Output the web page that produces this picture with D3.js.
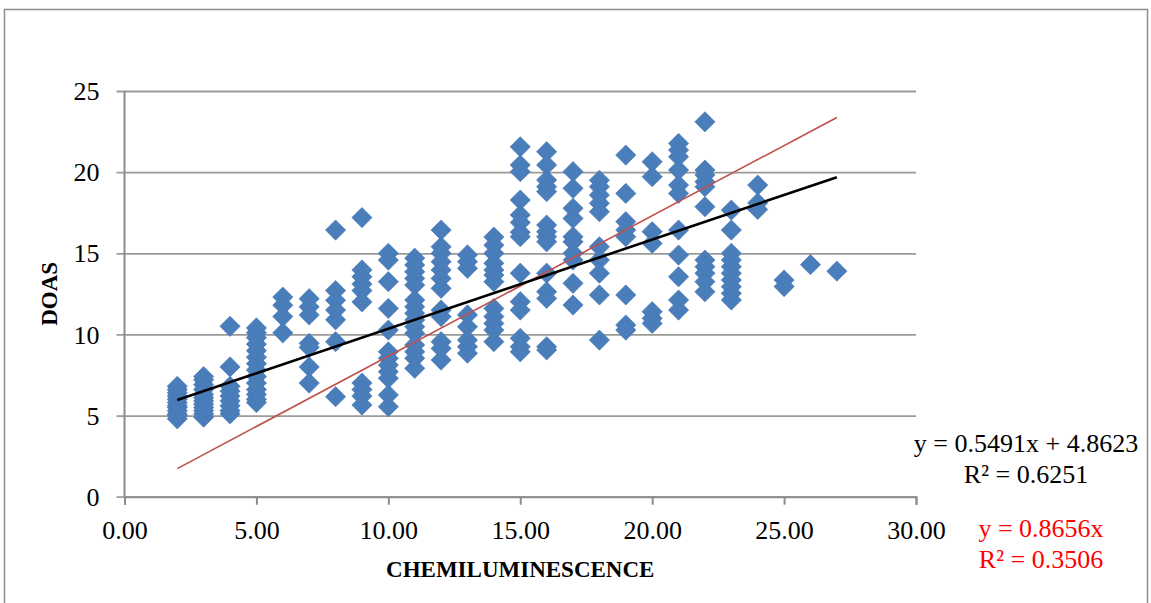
<!DOCTYPE html>
<meta charset="utf-8">
<style>
    body {
        margin: 0;
        background: #fff;
        font-family: 'Liberation Serif', serif;
    }
    #graph {
        width: 1151px;
        height: 603px;
    }
</style>
<script src="https://d3js.org/d3.v7.min.js"></script>
<div id="graph"></div>
<script>
    // chemiluminescence readings (x) and the DOAS readings seen at each one (y)
    const chemiLevels = [2, 3, 4, 5, 6, 7, 8, 9, 10, 11, 12, 13, 14, 15, 16, 17, 18, 19, 20, 21, 22, 23, 24, 25, 26, 27];
    const doasByLevel = [
        [4.8, 5.0, 5.1, 5.3, 5.5, 5.6, 5.8, 6.0, 6.2, 6.4, 6.6, 6.8],
        [4.9, 5.1, 5.3, 5.5, 5.7, 5.9, 6.1, 6.3, 6.6, 6.9, 7.2, 7.4],
        [5.1, 5.3, 5.6, 5.9, 6.2, 6.5, 6.8, 8.0, 10.5],
        [5.8, 6.0, 6.3, 6.6, 7.0, 7.4, 7.8, 8.2, 8.6, 9.0, 9.4, 9.8, 10.1, 10.4],
        [12.3, 11.8, 11.1, 10.1],
        [12.2, 11.7, 11.2, 9.45, 9.2, 8.0, 7.0],
        [16.43, 12.7, 12.1, 11.5, 10.9, 9.55, 6.16],
        [17.2, 13.97, 13.55, 13.1, 12.7, 12.0, 7.0, 6.6, 6.2, 5.65],
        [15.0, 14.58, 13.25, 11.6, 10.27, 8.93, 8.53, 8.11, 7.7, 7.3, 6.27, 5.55],
        [14.7, 14.28, 13.86, 13.45, 13.04, 12.12, 11.7, 11.3, 10.89, 10.47, 10.07, 9.35, 8.93, 8.53, 7.91],
        [16.43, 15.4, 15.0, 14.48, 13.97, 13.45, 12.84, 11.5, 11.1, 9.55, 9.14, 8.42],
        [14.9, 14.48, 14.07, 11.2, 10.47, 9.65, 9.24, 8.84],
        [16.0, 15.5, 15.0, 14.38, 13.97, 13.66, 13.25, 11.6, 11.1, 10.68, 10.27, 9.55],
        [21.56, 20.44, 20.03, 18.28, 17.36, 16.9, 16.3, 16.02, 13.77, 12.02, 11.5, 9.76, 9.24, 8.93],
        [21.26, 20.44, 19.51, 19.1, 18.8, 16.74, 16.33, 16.02, 15.71, 13.77, 12.63, 12.22, 9.24, 9.04],
        [20.03, 19.0, 17.77, 17.15, 16.02, 15.71, 15.0, 14.58, 13.15, 11.81],
        [19.5, 19.1, 18.59, 18.08, 17.56, 15.4, 14.58, 13.77, 12.43, 9.65],
        [21.05, 18.69, 16.95, 16.43, 16.02, 12.43, 10.58, 10.27],
        [20.64, 19.72, 16.33, 15.61, 11.4, 10.99, 10.68],
        [21.77, 21.36, 20.95, 20.13, 19.2, 18.69, 16.43, 14.89, 13.55, 12.12, 11.5],
        [23.1, 20.13, 19.82, 19.41, 19.1, 17.87, 14.58, 14.17, 13.77, 13.25, 12.63],
        [17.66, 16.43, 15.0, 14.58, 14.17, 13.77, 13.35, 12.94, 12.53, 12.12],
        [19.2, 18.1, 17.7],
        [13.35, 12.95],
        [14.3],
        [13.9]
    ];
    const xTicks = [0, 5, 10, 15, 20, 25, 30];
    const yTicks = [0, 5, 10, 15, 20, 25];
    // fitted lines: y = slope * x + intercept
    const fitLinear = {slope: 0.5491, intercept: 4.8623, r2: 0.6251};
    const fitOrigin = {slope: 0.8656, intercept: 0, r2: 0.3506};

    const points = [];
    chemiLevels.forEach((c, i) => doasByLevel[i].forEach(v => points.push({x: c, y: v})));

    const W = 1151, H = 603;
    const margin = {top: 91, left: 124.5, right: W - 916, bottom: H - 496.7},
        width = W - margin.left - margin.right,
        height = H - margin.top - margin.bottom;

    const svg = d3.select("#graph").append("svg")
        .attr("width", W)
        .attr("height", H);

    // chart frame
    svg.append("rect")
        .attr("x", 4.5).attr("y", 9.5)
        .attr("width", 1143).attr("height", 620)
        .attr("fill", "none")
        .attr("stroke", "#8c8c8c")
        .attr("stroke-width", 1.5);

    const g = svg.append("g")
        .attr("transform", `translate(${margin.left},${margin.top})`);

    const x = d3.scaleLinear().domain([0, 30]).range([0, width]);
    const y = d3.scaleLinear().domain([0, 25]).range([height, 0]);

    // horizontal gridlines + y axis
    const axisY = g.append("g")
        .call(d3.axisLeft(y).tickValues(yTicks).tickSize(8).tickPadding(17).tickFormat(d3.format("d")));
    axisY.select(".domain").remove();
    axisY.selectAll(".tick line")
        .attr("x1", -8).attr("x2", width)
        .attr("stroke", "#9a9a9a").attr("stroke-width", 1.8);
    axisY.selectAll("text")
        .attr("font-family", "Liberation Serif").attr("font-size", 26)
        .attr("fill", "#000").attr("dy", "0.33em");

    g.append("line")
        .attr("x1", 0).attr("x2", 0).attr("y1", 0).attr("y2", height)
        .attr("stroke", "#8c8c8c").attr("stroke-width", 2);

    const axisX = g.append("g")
        .attr("transform", `translate(0,${height})`)
        .call(d3.axisBottom(x).tickValues(xTicks).tickSize(8).tickPadding(16).tickFormat(d3.format(".2f")));
    axisX.select(".domain").attr("stroke", "#8c8c8c").attr("stroke-width", 2);
    axisX.selectAll(".tick line").attr("stroke", "#8c8c8c").attr("stroke-width", 2);
    axisX.selectAll("text")
        .attr("font-family", "Liberation Serif").attr("font-size", 26)
        .attr("fill", "#000").attr("dy", "0.72em");

    // points
    const diamond = d3.symbol().type(d3.symbolSquare).size(205);
    g.append("g").selectAll("path")
        .data(points)
        .enter().append("path")
        .attr("d", diamond)
        .attr("transform", d => `translate(${x(d.x)},${y(d.y)}) rotate(45)`)
        .attr("fill", "#4a7ebb")
        .attr("stroke", "#4577b3")
        .attr("stroke-width", 0.6);

    // trend lines
    const xExt = d3.extent(points, d => d.x);
    const line = d3.line().x(d => x(d[0])).y(d => y(d[1]));
    const fitPts = f => xExt.map(v => [v, f.slope * v + f.intercept]);

    g.append("path")
        .attr("d", line(fitPts(fitOrigin)))
        .attr("fill", "none").attr("stroke", "#c0504d").attr("stroke-width", 1.6);
    g.append("path")
        .attr("d", line(fitPts(fitLinear)))
        .attr("fill", "none").attr("stroke", "#000").attr("stroke-width", 2.6);

    // axis titles
    svg.append("text")
        .attr("x", margin.left + width / 2).attr("y", 577)
        .attr("text-anchor", "middle")
        .attr("font-family", "Liberation Serif").attr("font-weight", "bold").attr("font-size", 23)
        .text("CHEMILUMINESCENCE");
    svg.append("text")
        .attr("transform", `translate(56.5,${margin.top + height / 2}) rotate(-90)`)
        .attr("text-anchor", "middle")
        .attr("font-family", "Liberation Serif").attr("font-weight", "bold").attr("font-size", 23)
        .text("DOAS");

    // equations
    const eq = svg.append("g")
        .attr("font-family", "Liberation Serif").attr("font-size", 26)
        .attr("text-anchor", "middle");
    eq.append("text").attr("x", 1026).attr("y", 452)
        .text(`y = ${fitLinear.slope}x + ${fitLinear.intercept}`);
    eq.append("text").attr("x", 1026).attr("y", 483)
        .text(`R² = ${fitLinear.r2}`);
    eq.append("text").attr("x", 1041).attr("y", 537).attr("fill", "#ff0000")
        .text(`y = ${fitOrigin.slope}x`);
    eq.append("text").attr("x", 1041).attr("y", 568).attr("fill", "#ff0000")
        .text(`R² = ${fitOrigin.r2}`);
</script>
